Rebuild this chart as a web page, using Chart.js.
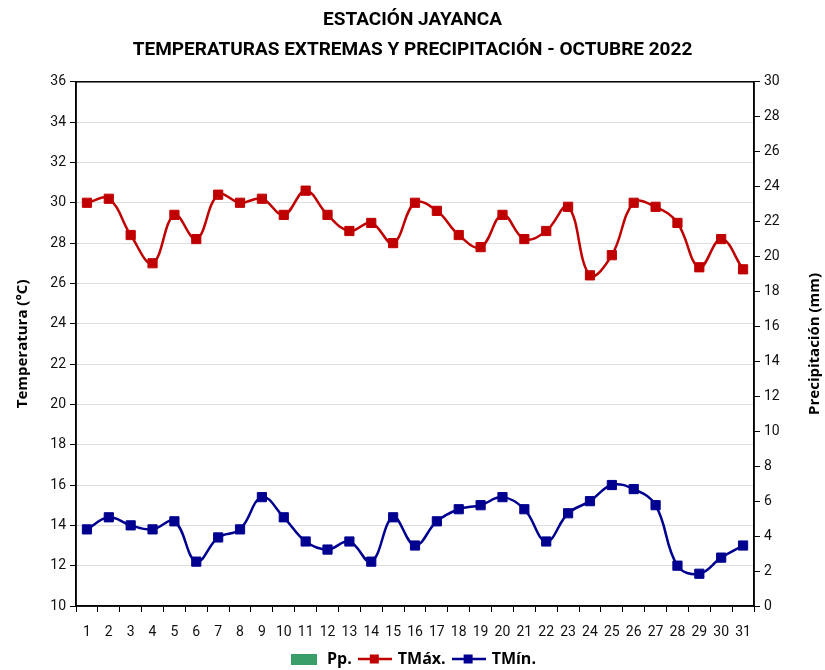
<!DOCTYPE html>
<html>
<head>
<meta charset="utf-8">
<script src="https://cdn.jsdelivr.net/npm/chart.js@4.4.0/dist/chart.umd.min.js"></script>
<style>
  html, body { margin: 0; padding: 0; background: #fff; }
  #wrap { width: 825px; height: 670px; }
</style>
</head>
<body>
<div id="wrap"><canvas id="grafico" width="825" height="670"></canvas></div>
<script>
// Datos
const dias = ["1","2","3","4","5","6","7","8","9","10","11","12","13","14","15","16",
  "17","18","19","20","21","22","23","24","25","26","27","28","29","30","31"];
const tMax = [30.0, 30.2, 28.4, 27.0, 29.4, 28.2, 30.4, 30.0, 30.2, 29.4, 30.6, 29.4, 28.6, 29.0, 28.0, 30.0,
  29.6, 28.4, 27.8, 29.4, 28.2, 28.6, 29.8, 26.4, 27.4, 30.0, 29.8, 29.0, 26.8, 28.2, 26.7];
const tMin = [13.8, 14.4, 14.0, 13.8, 14.2, 12.2, 13.4, 13.8, 15.4, 14.4, 13.2, 12.8, 13.2, 12.2, 14.4, 13.0,
  14.2, 14.8, 15.0, 15.4, 14.8, 13.2, 14.6, 15.2, 16.0, 15.8, 15.0, 12.0, 11.6, 12.4, 13.0];
const precip = [0, 0, 0, 0, 0, 0, 0, 0, 0, 0, 0, 0, 0, 0, 0, 0,
  0, 0, 0, 0, 0, 0, 0, 0, 0, 0, 0, 0, 0, 0, 0];
const tituloLineas = ["ESTACIÓN JAYANCA", "TEMPERATURAS EXTREMAS Y PRECIPITACIÓN - OCTUBRE 2022"];

const ROJO = "#c00000";
const AZUL = "#000090";
const VERDE = "#3a9e6a";

// Iconos de la leyenda (línea con marcador cuadrado)
function iconoLinea(color) {
    const c = document.createElement("canvas");
    c.width = 34; c.height = 12;
    const g = c.getContext("2d");
    g.strokeStyle = color; g.lineWidth = 2.5;
    g.beginPath(); g.moveTo(0, 6); g.lineTo(34, 6); g.stroke();
    g.fillStyle = color; g.fillRect(12, 1.5, 9, 9);
    return c;
}
function iconoCaja(color) {
    const c = document.createElement("canvas");
    c.width = 26; c.height = 12;
    const g = c.getContext("2d");
    g.fillStyle = color; g.fillRect(0, 1, 26, 11);
    return c;
}
const iconos = [iconoCaja(VERDE), iconoLinea(ROJO), iconoLinea(AZUL)];

// Marco negro del área y título del eje derecho
const marco = {
    id: "marco",
    afterDraw(chart) {
        const a = chart.chartArea, ctx = chart.ctx;
        ctx.save();
        ctx.strokeStyle = "#000"; ctx.lineWidth = 1.5;
        ctx.strokeRect(a.left, a.top, a.right - a.left, a.bottom - a.top);
        ctx.translate(815, (a.top + a.bottom) / 2);
        ctx.rotate(-Math.PI / 2);
        ctx.fillStyle = "#000";
        ctx.font = "bold 15px 'Open Sans', sans-serif";
        ctx.textAlign = "center"; ctx.textBaseline = "middle";
        ctx.fillText("Precipitación (mm)", 0, 0);
        ctx.restore();
    }
};

Chart.defaults.font.family = "Roboto, sans-serif";
Chart.defaults.color = "#111";

const ctx = document.getElementById("grafico").getContext("2d");
new Chart(ctx, {
    data: {
        labels: dias,
        datasets: [
            { type: "bar", label: "Pp.", data: precip, backgroundColor: VERDE, yAxisID: "y1", order: 3 },
            { type: "line", label: "TMáx.", data: tMax, borderColor: ROJO, backgroundColor: ROJO,
              borderWidth: 2.5, pointStyle: "rect", pointRadius: 6.5, pointBorderWidth: 1,
              tension: 0.4, yAxisID: "y", order: 1 },
            { type: "line", label: "TMín.", data: tMin, borderColor: AZUL, backgroundColor: AZUL,
              borderWidth: 2.5, pointStyle: "rect", pointRadius: 6.5, pointBorderWidth: 1,
              tension: 0.4, yAxisID: "y", order: 2 }
        ]
    },
    options: {
        responsive: false,
        animation: false,
        layout: { padding: { left: 0, right: 0, top: 0, bottom: -7 } },
        plugins: {
            title: {
                display: true,
                text: tituloLineas,
                color: "#000",
                font: { size: 19, weight: "bold", lineHeight: 1.6 },
                padding: { top: 5, bottom: 16 }
            },
            legend: {
                position: "bottom",
                labels: {
                    usePointStyle: true,
                    pointStyleWidth: 30,
                    padding: 8,
                    color: "#000",
                    font: { size: 16, weight: "bold", family: "'Open Sans', sans-serif" },
                    generateLabels(chart) {
                        return chart.data.datasets.map((ds, i) => ({
                            text: ds.label, pointStyle: iconos[i], datasetIndex: i,
                            fillStyle: "transparent", strokeStyle: "transparent", lineWidth: 0,
                            fontColor: "#000"
                        }));
                    }
                }
            },
            tooltip: { enabled: false }
        },
        scales: {
            x: {
                offset: true,
                grid: { display: true, drawOnChartArea: false, offset: true, color: "#000", tickLength: 6 },
                border: { color: "#000", width: 1.5 },
                ticks: { color: "#111", font: { size: 14 }, padding: 12, maxRotation: 0, autoSkip: false },
                afterFit(scale) { scale.height = 37; }
            },
            y: {
                position: "left",
                min: 10, max: 36,
                ticks: { stepSize: 2, color: "#111", font: { size: 14 }, padding: 4 },
                grid: { color: "#dedede", tickColor: "#000", tickLength: 6 },
                border: { color: "#000", width: 1.5 },
                title: { display: true, text: "Temperatura (°C)", color: "#000",
                         font: { size: 15, weight: "bold", family: "'Open Sans', sans-serif" }, padding: 14 },
                afterFit(scale) { scale.width = 76; }
            },
            y1: {
                position: "right",
                min: 0, max: 30,
                ticks: { stepSize: 2, color: "#111", font: { size: 14 }, padding: 4 },
                grid: { drawOnChartArea: false, color: "#000", tickLength: 6 },
                border: { color: "#000", width: 1.5 },
                afterFit(scale) { scale.width = 71; }
            }
        }
    },
    plugins: [marco]
});
</script>
</body>
</html>
